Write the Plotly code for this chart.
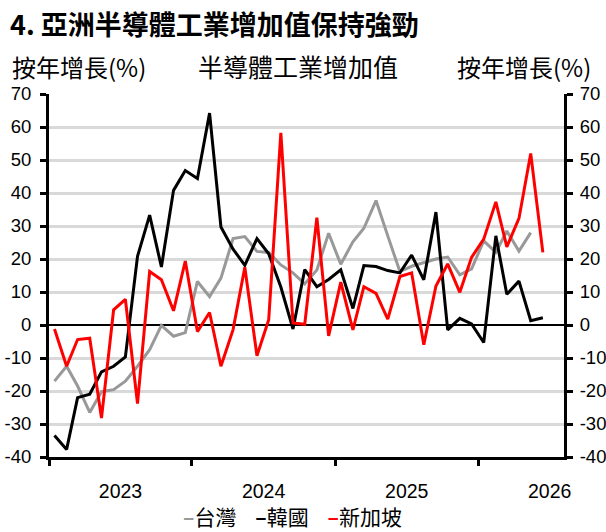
import pandas as pd
import plotly.graph_objects as go

# monthly readings, YoY %
months = pd.date_range("2023-01-01", periods=42, freq="MS") + pd.Timedelta(days=14)

taiwan = [-17, -12.5, -18.5, -26.5, -20.2, -19.6, -17, -12.5, -7.5, -0.1, -3.4, -2.3,
          13.2, 8.6, 14.2, 26.2, 26.8, 22.3, 22, 18.2, 15.8, 12.5, 16.7, 27.8,
          18.4, 25.2, 29.3, 37.7, 27, 16.2, 17.8, 19, 20, 20.6, 15.2, 17,
          25.5, 22, 28.5, 22.4, 28]
korea = [-33.5, -37.7, -22, -21, -14.2, -12.5, -9.7, 20.8, 33.3, 17.6, 40.8, 46.8,
         44.4, 64.2, 29.7, 23, 18.1, 26.2, 21.6, 11.5, -1.2, 16.8, 11.6, 13.8,
         16.7, 5, 18, 17.7, 16.5, 15.8, 21.2, 13.7, 34.2, -1.5, 2, 0.3,
         -5.3, 27, 9.3, 13.3, 1.3, 2.2]
singapore = [-1.2, -12.5, -4.4, -4, -28.2, 4.6, 7.8, -23.8, 16.2, 13.7, 4.3, 19.4,
             -2, 3.8, -12.5, -1.4, 17.5, -9.3, 1.6, 58.2, 0.6, 0.2, 32.5, -3.3,
             13, -1.5, 11.6, 9.6, 1.8, 14.7, 15.8, -6, 11.8, 18.5, 9.9, 20.5,
             26, 37.3, 23.7, 32.3, 52, 22]

y_ticks = [-40, -30, -20, -10, 0, 10, 20, 30, 40, 50, 60, 70]

series = [("台灣", taiwan, "#999999"), ("韓國", korea, "#000000"), ("新加坡", singapore, "#ff0000")]

FONT = "Liberation Sans, Arial, sans-serif"
CJK = "Noto Sans CJK TC, sans-serif"

fig = go.Figure()
for name, vals, col in series:
    fig.add_trace(go.Scatter(x=months[:len(vals)], y=vals, name=name, mode="lines",
                             line=dict(color=col, width=3), showlegend=False))

# plain hyphen for negatives, like the source chart
yax = dict(range=[-40, 70], tickvals=y_ticks, ticktext=[str(v) for v in y_ticks],
           showline=True, linecolor="black", linewidth=3,
           ticks="outside", ticklen=6, tickwidth=2.5, tickcolor="black", automargin=False,
           tickfont=dict(family=FONT, size=18.5, color="black"))

fig.update_layout(
    width=606, height=532,
    margin=dict(l=49, r=42, t=94, b=75),
    paper_bgcolor="white", plot_bgcolor="white",
    xaxis=dict(type="date", range=["2023-01-01", "2026-08-08"], dtick="M12", tick0="2023-01-01",
               tickformat="%Y", ticklabelmode="period", showgrid=False, automargin=False,
               showline=True, linecolor="black", linewidth=3,
               ticks="outside", ticklen=6, tickwidth=3, tickcolor="black",
               tickfont=dict(family=FONT, size=19.5, color="black"), ticklabelstandoff=9),
    yaxis=dict(**yax, ticklabelstandoff=5, showgrid=True, gridcolor="#d9d9d9", gridwidth=2.5,
               zeroline=True, zerolinecolor="black", zerolinewidth=2),
    yaxis2=dict(**yax, ticklabelstandoff=3, overlaying="y", side="right",
                showgrid=False, zeroline=False),
)

# dummy trace so the right axis renders
fig.add_trace(go.Scatter(x=[months[0]], y=[0], yaxis="y2", mode="markers",
                         marker=dict(opacity=0), showlegend=False, hoverinfo="skip"))

fig.add_annotation(text="<b>4. 亞洲半導體工業增加值保持強勁</b>", xref="paper", yref="paper",
                   x=-0.0796, y=1.193, xanchor="left", yanchor="middle", showarrow=False,
                   font=dict(family=CJK, size=27, color="black"))
fig.add_annotation(text="按年增長(%)", xref="paper", yref="paper", x=-0.0757, y=1.077,
                   xanchor="left", yanchor="middle", showarrow=False,
                   font=dict(family=CJK, size=24, color="black"))
fig.add_annotation(text="半導體工業增加值", xref="paper", yref="paper", x=0.4835, y=1.077,
                   xanchor="center", yanchor="middle", showarrow=False,
                   font=dict(family=CJK, size=25, color="black"))
fig.add_annotation(text="按年增長(%)", xref="paper", yref="paper", x=1.0563, y=1.077,
                   xanchor="right", yanchor="middle", showarrow=False,
                   font=dict(family=CJK, size=24, color="black"))

# legend drawn as one line of text
gap = "&nbsp;" * 4
legend = gap.join(f"<span style='color:{c}'><b>–</b></span>{n}" for n, _, c in series)
fig.add_annotation(text=legend, xref="paper", yref="paper", x=0.472, y=-0.162,
                   xanchor="center", yanchor="middle", showarrow=False, borderpad=0,
                   font=dict(family=CJK, size=21, color="black"))

fig.write_html("out.html", config={"displayModeBar": False},
               post_script="document.body.style.margin='0px';document.body.style.overflow='hidden';")
